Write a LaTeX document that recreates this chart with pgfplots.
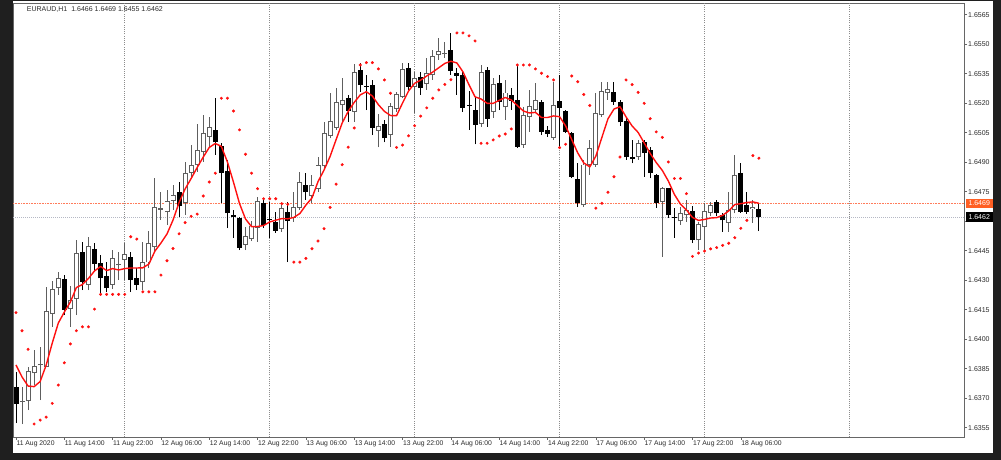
\documentclass[border=0pt]{standalone}
\usepackage{pgfplots}
\usepackage{pgfplotstable}
\usepackage{fontspec}
\setmainfont{Liberation Sans}
\pgfplotsset{compat=1.18}
\definecolor{bgdark}{HTML}{1F1F1F}
\definecolor{framec}{HTML}{666666}
\definecolor{txt}{HTML}{2A2A2A}
\definecolor{upc}{HTML}{5E5E5E}
\definecolor{gridc}{HTML}{8C8C8C}
\definecolor{orline}{HTML}{FF7B5A}
\definecolor{orbox}{HTML}{FF5F23}
\definecolor{bidline}{HTML}{B5B8C4}
\definecolor{mared}{HTML}{FF1010}

\pgfplotstableread{
i o h l c ma sar
0 1.63757 1.63833 1.63574 1.63670 1.63869 1.64135
1 1.63683 1.63757 1.63569 1.63686 1.63808 1.64043
2 1.63687 1.63859 1.63640 1.63836 1.63762 1.63949
3 1.63830 1.63945 1.63767 1.63861 1.63759 1.63569
4 1.63869 1.63960 1.63691 1.63874 1.63785 1.63589
5 1.63860 1.64265 1.63859 1.64143 1.63869 1.63604
6 1.64131 1.64296 1.64063 1.64255 1.63980 1.63674
7 1.64260 1.64343 1.64225 1.64309 1.64082 1.63767
8 1.64306 1.64326 1.64123 1.64151 1.64138 1.63880
9 1.64157 1.64270 1.64063 1.64199 1.64189 1.63976
10 1.64208 1.64504 1.64123 1.64436 1.64263 1.64043
11 1.64441 1.64496 1.64250 1.64291 1.64278 1.64063
12 1.64277 1.64521 1.64250 1.64470 1.64309 1.64063
13 1.64459 1.64489 1.64343 1.64382 1.64347 1.64153
14 1.64387 1.64428 1.64235 1.64309 1.64370 1.64228
15 1.64321 1.64392 1.64240 1.64259 1.64349 1.64228
16 1.64278 1.64451 1.64255 1.64410 1.64359 1.64228
17 1.64377 1.64443 1.64301 1.64382 1.64352 1.64228
18 1.64406 1.64489 1.64301 1.64433 1.64359 1.64228
19 1.64420 1.64443 1.64240 1.64301 1.64362 1.64521
20 1.64311 1.64362 1.64250 1.64278 1.64362 1.64509
21 1.64292 1.64496 1.64250 1.64389 1.64363 1.64241
22 1.64392 1.64550 1.64362 1.64486 1.64382 1.64241
23 1.64470 1.64820 1.64438 1.64672 1.64448 1.64241
24 1.64659 1.64748 1.64606 1.64665 1.64489 1.64326
25 1.64647 1.64759 1.64581 1.64700 1.64535 1.64399
26 1.64705 1.64784 1.64657 1.64733 1.64606 1.64461
27 1.64748 1.64801 1.64623 1.64679 1.64695 1.64536
28 1.64692 1.64903 1.64631 1.64845 1.64764 1.64593
29 1.64849 1.64987 1.64820 1.64886 1.64817 1.64625
30 1.64886 1.65093 1.64852 1.64962 1.64873 1.64636
31 1.64953 1.65140 1.64903 1.65047 1.64926 1.64728
32 1.65030 1.65131 1.64972 1.65075 1.64975 1.64799
33 1.65064 1.65225 1.64937 1.65001 1.64995 1.64844
34 1.64984 1.64998 1.64692 1.64844 1.64980 1.65225
35 1.64855 1.64911 1.64565 1.64640 1.64901 1.65225
36 1.64629 1.64657 1.64515 1.64621 1.64799 1.65160
37 1.64615 1.64623 1.64453 1.64465 1.64690 1.65064
38 1.64482 1.64572 1.64453 1.64521 1.64611 1.64940
39 1.64511 1.64601 1.64499 1.64576 1.64572 1.64844
40 1.64568 1.64725 1.64496 1.64701 1.64573 1.64765
41 1.64692 1.64718 1.64565 1.64579 1.64578 1.64714
42 1.64609 1.64699 1.64515 1.64604 1.64596 1.64714
43 1.64598 1.64647 1.64540 1.64551 1.64605 1.64714
44 1.64564 1.64682 1.64545 1.64665 1.64613 1.64689
45 1.64649 1.64699 1.64392 1.64600 1.64612 1.64686
46 1.64619 1.64748 1.64596 1.64671 1.64619 1.64392
47 1.64671 1.64852 1.64657 1.64797 1.64639 1.64392
48 1.64784 1.64844 1.64708 1.64746 1.64682 1.64411
49 1.64729 1.64835 1.64691 1.64784 1.64718 1.64460
50 1.64767 1.64928 1.64748 1.64884 1.64801 1.64499
51 1.64881 1.65106 1.64870 1.65047 1.64860 1.64562
52 1.65034 1.65250 1.65021 1.65106 1.64929 1.64670
53 1.65076 1.65277 1.65064 1.65205 1.65015 1.64788
54 1.65191 1.65328 1.65106 1.65214 1.65099 1.64887
55 1.65225 1.65242 1.65106 1.65161 1.65158 1.64976
56 1.65159 1.65399 1.65106 1.65356 1.65204 1.65074
57 1.65367 1.65404 1.65257 1.65291 1.65242 1.65394
58 1.65287 1.65343 1.65165 1.65282 1.65258 1.65406
59 1.65293 1.65318 1.65038 1.65076 1.65236 1.65406
60 1.65061 1.65143 1.64975 1.65083 1.65192 1.65374
61 1.65093 1.65115 1.65000 1.65021 1.65158 1.65318
62 1.65038 1.65199 1.64979 1.65182 1.65137 1.65250
63 1.65174 1.65258 1.65155 1.65242 1.65136 1.64975
64 1.65233 1.65403 1.65226 1.65369 1.65201 1.64987
65 1.65377 1.65403 1.65267 1.65284 1.65262 1.65034
66 1.65284 1.65360 1.65149 1.65324 1.65301 1.65085
67 1.65335 1.65360 1.65242 1.65276 1.65317 1.65134
68 1.65301 1.65428 1.65267 1.65349 1.65338 1.65176
69 1.65343 1.65470 1.65318 1.65436 1.65358 1.65225
70 1.65448 1.65530 1.65420 1.65464 1.65380 1.65267
71 1.65450 1.65511 1.65430 1.65455 1.65402 1.65295
72 1.65470 1.65555 1.65343 1.65364 1.65413 1.65319
73 1.65355 1.65379 1.65242 1.65338 1.65404 1.65557
74 1.65343 1.65360 1.65155 1.65174 1.65359 1.65557
75 1.65193 1.65262 1.65064 1.65187 1.65293 1.65542
76 1.65165 1.65232 1.64991 1.65089 1.65232 1.65516
77 1.65094 1.65394 1.65079 1.65356 1.65221 1.64996
78 1.65369 1.65386 1.65080 1.65120 1.65199 1.64996
79 1.65155 1.65328 1.65125 1.65293 1.65199 1.65013
80 1.65301 1.65343 1.65165 1.65208 1.65214 1.65033
81 1.65181 1.65318 1.65115 1.65252 1.65229 1.65043
82 1.65242 1.65277 1.65165 1.65211 1.65216 1.65069
83 1.65216 1.65394 1.64972 1.64979 1.65188 1.65394
84 1.64987 1.65182 1.64972 1.65140 1.65160 1.65394
85 1.65131 1.65267 1.65055 1.65182 1.65150 1.65394
86 1.65169 1.65301 1.65150 1.65216 1.65153 1.65374
87 1.65208 1.65216 1.65038 1.65055 1.65127 1.65352
88 1.65064 1.65084 1.65028 1.65043 1.65127 1.65335
89 1.65027 1.65309 1.65013 1.65186 1.65135 1.65318
90 1.65213 1.65343 1.64979 1.65174 1.65131 1.64974
91 1.65162 1.65165 1.65047 1.65055 1.65084 1.64991
92 1.65047 1.65055 1.64818 1.64826 1.65015 1.65338
93 1.64813 1.64894 1.64674 1.64691 1.64947 1.65309
94 1.64682 1.64911 1.64672 1.64886 1.64896 1.65244
95 1.64886 1.65013 1.64835 1.64972 1.64876 1.65188
96 1.64886 1.65250 1.64876 1.65149 1.64931 1.64666
97 1.65140 1.65309 1.65130 1.65258 1.65026 1.64691
98 1.65252 1.65308 1.65216 1.65272 1.65120 1.64747
99 1.65257 1.65309 1.65191 1.65206 1.65170 1.64826
100 1.65206 1.65216 1.65084 1.65102 1.65182 1.64926
101 1.65109 1.65125 1.64911 1.64924 1.65130 1.65318
102 1.64924 1.65013 1.64894 1.64916 1.65084 1.65294
103 1.64928 1.65013 1.64911 1.64996 1.65051 1.65255
104 1.65004 1.65013 1.64826 1.64949 1.64998 1.65199
105 1.64962 1.64979 1.64818 1.64844 1.64944 1.65121
106 1.64835 1.64840 1.64667 1.64690 1.64898 1.65054
107 1.64699 1.64775 1.64419 1.64769 1.64858 1.65026
108 1.64767 1.64767 1.64616 1.64631 1.64804 1.64901
109 1.64622 1.64667 1.64515 1.64615 1.64736 1.64817
110 1.64601 1.64674 1.64581 1.64642 1.64687 1.64817
111 1.64631 1.64708 1.64596 1.64657 1.64657 1.64740
112 1.64652 1.64677 1.64489 1.64504 1.64619 1.64421
113 1.64504 1.64597 1.64453 1.64584 1.64604 1.64438
114 1.64572 1.64692 1.64448 1.64652 1.64609 1.64448
115 1.64644 1.64699 1.64626 1.64682 1.64616 1.64459
116 1.64695 1.64708 1.64626 1.64640 1.64618 1.64466
117 1.64631 1.64642 1.64545 1.64604 1.64630 1.64477
118 1.64593 1.64750 1.64547 1.64654 1.64652 1.64488
119 1.64657 1.64937 1.64640 1.64835 1.64685 1.64516
120 1.64844 1.64896 1.64642 1.64648 1.64689 1.64564
121 1.64682 1.64750 1.64637 1.64648 1.64695 1.64604
122 1.64662 1.64708 1.64591 1.64669 1.64698 1.64933
123 1.64660 1.64690 1.64550 1.64620 1.64691 1.64920
}\candles

\begin{document}
\begin{tikzpicture}
\fill[bgdark] (0pt,0pt) rectangle (1001pt,460pt);
\fill[white] (13pt,7pt) rectangle (993pt,459pt);
\begin{axis}[
  at={(13pt,23pt)}, anchor=south west,
  scale only axis, width=951pt, height=434pt,
  xmin=-0.497, xmax=156.95, ymin=1.63503, ymax=1.65709,
  axis line style={draw=framec, line width=0.7pt},
  tick align=outside,
  major tick length=3pt,
  tick style={draw=framec, line width=0.6pt},
  xtick={0,8,16,24,32,40,48,56,64,72,80,88,96,104,112,120},
  xticklabels={11 Aug 2020,11 Aug 14:00,11 Aug 22:00,12 Aug 06:00,12 Aug 14:00,12 Aug 22:00,13 Aug 06:00,13 Aug 14:00,13 Aug 22:00,14 Aug 06:00,14 Aug 14:00,14 Aug 22:00,17 Aug 06:00,17 Aug 14:00,17 Aug 22:00,18 Aug 06:00},
  xtick pos=bottom,
  xticklabel style={anchor=north west, inner sep=0pt, xshift=0.3pt, yshift=-0.8pt, font=\fontsize{6.8}{8}\selectfont, text=txt},
  ytick={1.6355,1.6370,1.6385,1.6400,1.6415,1.6430,1.6445,1.6460,1.6475,1.6490,1.6505,1.6520,1.6535,1.6550,1.6565},
  yticklabels={1.6355,1.6370,1.6385,1.6400,1.6415,1.6430,1.6445,{},1.6475,1.6490,1.6505,1.6520,1.6535,1.6550,1.6565},
  ytick pos=right,
  yticklabel pos=right,
  yticklabel style={anchor=west, inner sep=0pt, xshift=1pt, font=\fontsize{7}{8}\selectfont, text=txt},
  extra x ticks={18,42,66,90,114,138},
  extra x tick labels={},
  extra x tick style={grid=major, major tick length=0pt, major grid style={draw=gridc, line width=0.7pt, dash pattern=on 1pt off 1.2pt}},
  scaled y ticks=false,
]
\addplot[draw=bidline, line width=0.7pt, dash pattern=on 1pt off 1pt] coordinates {(-0.497,1.6462) (156.95,1.6462)};
\addplot[draw=orline, line width=0.8pt, dash pattern=on 1pt off 0.6pt] coordinates {(-0.497,1.6469) (156.95,1.6469)};
% wicks of rising candles
\addplot[draw=none, mark=none, restrict y to domain=1.6:1.7,
  error bars/.cd, y dir=plus, y explicit, error mark=none,
  error bar style={draw=upc, line width=1pt}]
  table[x=i, y expr={\thisrow{c}>=\thisrow{o} ? \thisrow{l} : 0}, y error plus expr={\thisrow{h}-\thisrow{l}}] {\candles};
% wicks of falling candles
\addplot[draw=none, mark=none, restrict y to domain=1.6:1.7,
  error bars/.cd, y dir=plus, y explicit, error mark=none,
  error bar style={draw=black, line width=1pt}]
  table[x=i, y expr={\thisrow{c}<\thisrow{o} ? \thisrow{l} : 0}, y error plus expr={\thisrow{h}-\thisrow{l}}] {\candles};
% bodies of rising candles: outline
\addplot[draw=none, mark=none, restrict y to domain=1.6:1.7,
  error bars/.cd, y dir=plus, y explicit, error mark=none,
  error bar style={draw=upc, line width=5pt}]
  table[x=i, y expr={\thisrow{c}>=\thisrow{o} ? \thisrow{o}-0.00002 : 0}, y error plus expr={\thisrow{c}-\thisrow{o}+0.00004}] {\candles};
% bodies of rising candles: white inside
\addplot[draw=none, mark=none, restrict y to domain=1.6:1.7,
  error bars/.cd, y dir=plus, y explicit, error mark=none,
  error bar style={draw=white, line width=3.1pt}]
  table[x=i, y expr={\thisrow{c}>=\thisrow{o} ? \thisrow{o}+0.00003 : 0}, y error plus expr={max(\thisrow{c}-\thisrow{o}-0.00006,0)}] {\candles};
% bodies of falling candles
\addplot[draw=none, mark=none, restrict y to domain=1.6:1.7,
  error bars/.cd, y dir=plus, y explicit, error mark=none,
  error bar style={draw=black, line width=5pt}]
  table[x=i, y expr={\thisrow{c}<\thisrow{o} ? \thisrow{c} : 0}, y error plus expr={\thisrow{o}-\thisrow{c}}] {\candles};
% moving average
\addplot[draw=mared, line width=1.4pt, mark=none, line join=round] table[x=i, y=ma] {\candles};
% parabolic SAR
\addplot[only marks, color=mared, mark=*, mark size=1.3pt, mark options={draw=none, fill=mared}] table[x=i, y=sar] {\candles};
\coordinate (ora) at (axis cs:156.95,1.6469);
\coordinate (bid) at (axis cs:156.95,1.6462);
\end{axis}
\node[fill=orbox, text=white, anchor=west, inner xsep=2.6pt, inner ysep=2.4pt, font=\fontsize{7}{8}\selectfont] at ([xshift=1.7pt]ora) {1.6469};
\node[fill=black, text=white, anchor=west, inner xsep=2.6pt, inner ysep=2.4pt, font=\fontsize{7}{8}\selectfont] at ([xshift=1.7pt]bid) {1.6462};
\node[anchor=base west, inner sep=0pt, font=\fontsize{7}{8}\selectfont, text=txt] at (26.7pt,448pt) {EURAUD,H1\hspace{4pt}1.6466 1.6469 1.6455 1.6462};
\end{tikzpicture}
\end{document}
